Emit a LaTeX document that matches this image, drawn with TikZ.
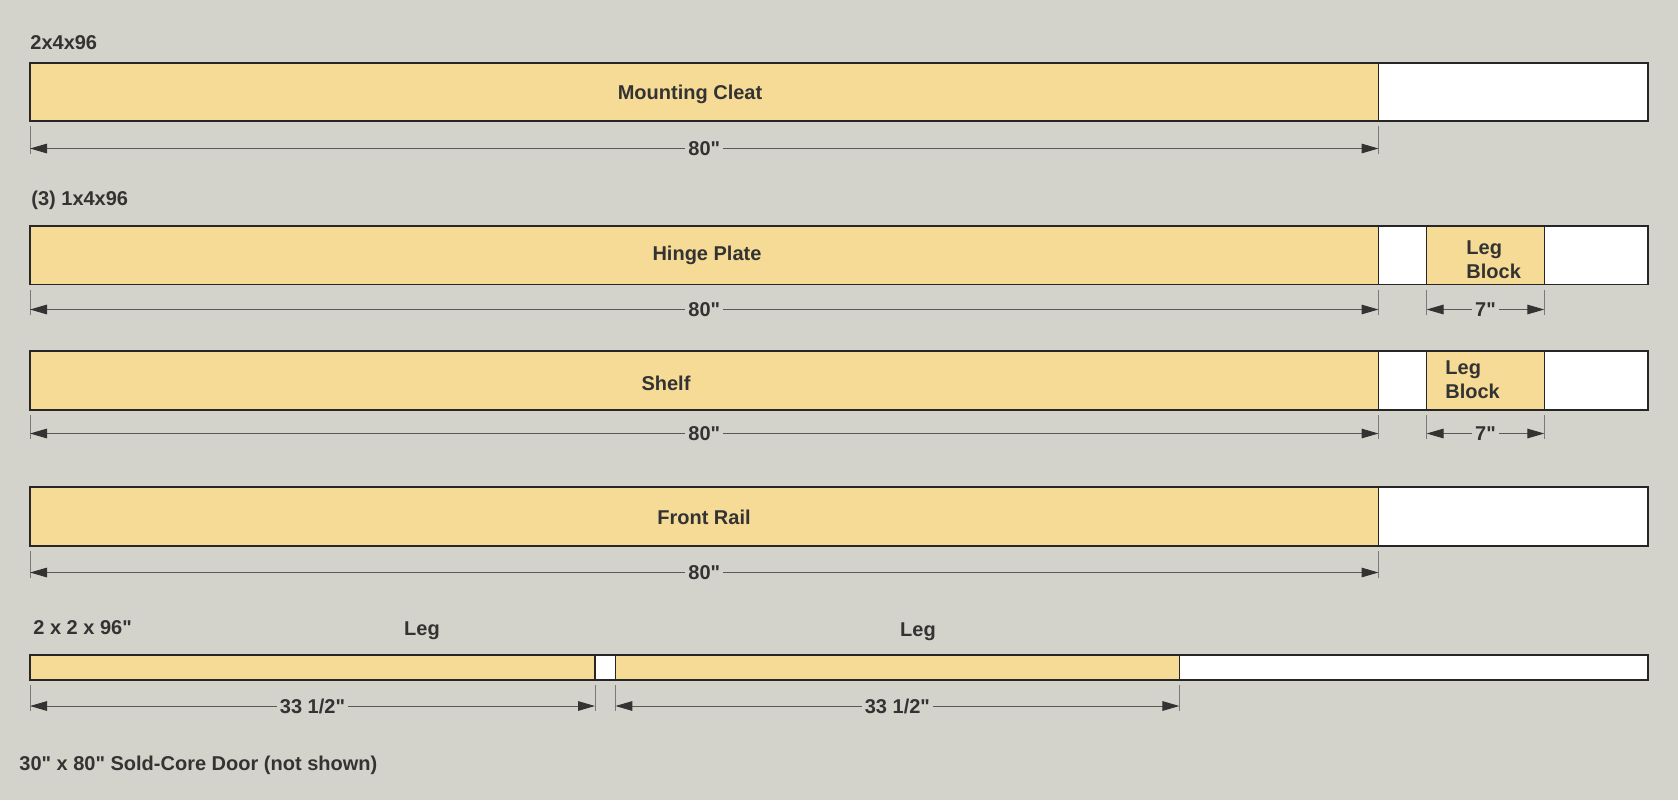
\documentclass[tikz,border=0pt]{standalone}
\usepackage{fontspec}
\setmainfont{Liberation Sans}[Ligatures=TeXOff]
\usetikzlibrary{arrows.meta}
\definecolor{bg}{HTML}{D4D3CB}
\definecolor{wood}{HTML}{F5DB95}
\definecolor{ink}{HTML}{333333}
\definecolor{dimgray}{HTML}{5A5A5A}
\definecolor{extgray}{HTML}{7A7A7A}
\newcommand\inq{"}
\tikzset{
  board/.style={draw=black!85, line width=0.7pt, fill=wood},
  spare/.style={draw=black!85, line width=0.7pt, fill=white},
  lbl/.style={text=ink, font=\fontsize{10}{12}\selectfont\bfseries, inner sep=0pt},
  dimlbl/.style={lbl, fill=bg, inner xsep=1.5pt, inner ysep=1pt},
  dimln/.style={draw=dimgray, line width=0.5pt, {Triangle[length=8.5pt,width=4.8pt,color=ink]}-{Triangle[length=8.5pt,width=4.8pt,color=ink]}},
  extln/.style={draw=extgray, line width=0.45pt},
}
\newcommand\dimline[6]{% name, x1, x2, board bottom, line y, label
  \coordinate (#1a) at (#2,#5);
  \coordinate (#1b) at (#3,#5);
  \draw[extln] (#2,#4+5) -- (#2,#5+5);
  \draw[extln] (#3,#4+5) -- (#3,#5+5);
  \draw[dimln] (#1a) -- (#1b) node[midway, dimlbl] (#1l) {#6};
}
\begin{document}
\begin{tikzpicture}[x=0.5pt, y=-0.5pt]
\fill[bg] (0,0) rectangle (1678,800);
\useasboundingbox (0,0) rectangle (1678,800);

% Row 1: 2x4x96
\node[lbl, anchor=west] (t1) at (30,43) {2x4x96};
\draw[spare] (1378.5,63) rectangle (1648,121);
\draw[board] (30,63) rectangle (1378.5,121);
\node[lbl] (mc) at (690,94) {Mounting Cleat};
\dimline{d1}{30}{1378.5}{121}{148.5}{80\inq}

% Row 2: (3) 1x4x96
\node[lbl, anchor=west] (t2) at (31,200) {(3) 1x4x96};
\draw[spare] (1378.5,225.8) rectangle (1648,284.7);
\draw[board] (30,225.8) rectangle (1378.5,284.7);
\draw[board] (1426.6,225.8) rectangle (1544.3,284.7);
\node[lbl] (hp) at (707,255) {Hinge Plate};
\node[lbl, anchor=west, align=left] (lb1) at (1466,260) {Leg\\Block};
\dimline{d2}{30}{1378.5}{284.7}{309.5}{80\inq}
\dimline{d3}{1426.6}{1544.3}{284.7}{309.5}{7\inq}

% Row 3
\draw[spare] (1378.5,351) rectangle (1648,410);
\draw[board] (30,351) rectangle (1378.5,410);
\draw[board] (1426.6,351) rectangle (1544.3,410);
\node[lbl] (sh) at (666,383) {Shelf};
\node[lbl, anchor=west, align=left] (lb2) at (1445,380) {Leg\\Block};
\dimline{d4}{30}{1378.5}{410}{433.5}{80\inq}
\dimline{d5}{1426.6}{1544.3}{410}{433.5}{7\inq}

% Row 4
\draw[spare] (1378.5,487) rectangle (1648,546);
\draw[board] (30,487) rectangle (1378.5,546);
\node[lbl] (fr) at (704,517) {Front Rail};
\dimline{d6}{30}{1378.5}{546}{572.5}{80\inq}

% Row 5: 2x2x96
\node[lbl, anchor=west] (t3) at (33,628) {2 x 2 x 96\inq};
\node[lbl] (leg1) at (422,631) {Leg};
\node[lbl] (leg2) at (918,632) {Leg};
\draw[spare] (30,655) rectangle (1648,680);
\draw[board] (30,655) rectangle (595,680);
\draw[board] (615.4,655) rectangle (1179.4,680);
\dimline{d7}{30}{595}{680}{706}{33 1/2\inq}
\dimline{d8}{615.4}{1179.4}{680}{706}{33 1/2\inq}

\node[lbl, anchor=west] (door) at (19,765) {30\inq{} x 80\inq{} Sold-Core Door (not shown)};
\end{tikzpicture}
\end{document}
